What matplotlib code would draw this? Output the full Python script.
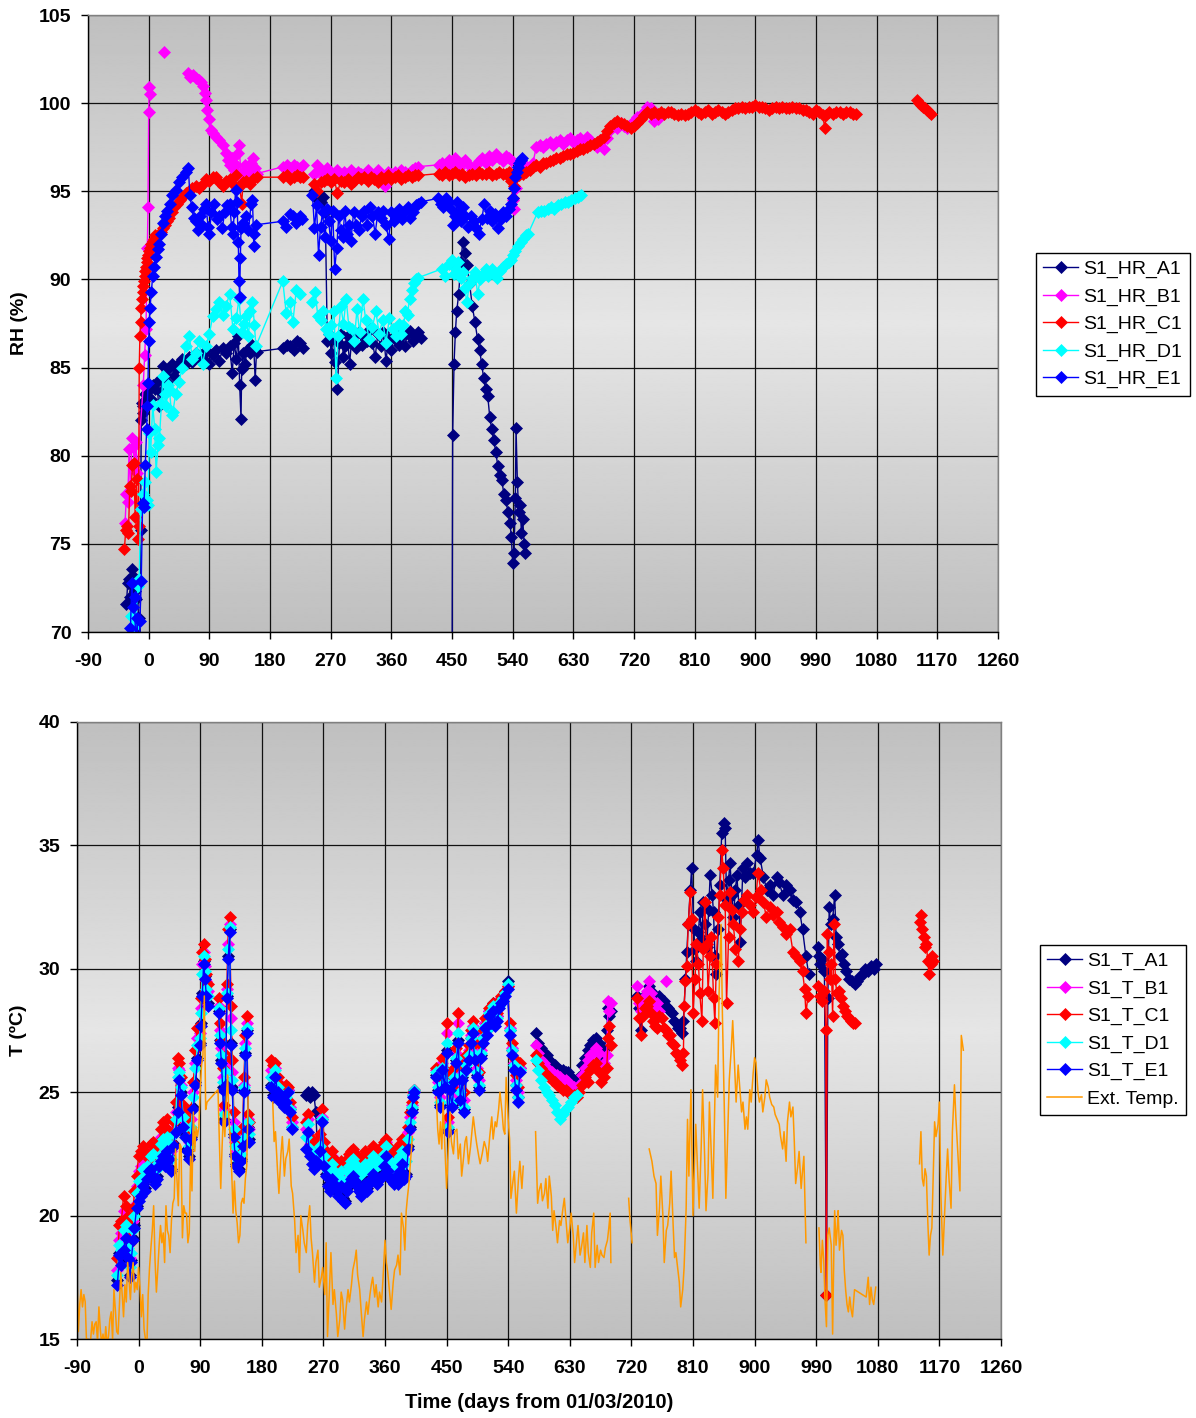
import numpy as np
import matplotlib
matplotlib.use("Agg")
import matplotlib.pyplot as plt

plt.rcParams['font.family'] = ['Liberation Sans', 'DejaVu Sans']

# None marks a break in a series (no line drawn across it)

# ---------------- RH, top chart ----------------
RH_A1_DAYS = [
    -33, -31, -29, -27, -25, -23, -21, -19, -17, -15,
    -13, -12, -11, -10, -9, -8, -6, -4, -2, 0,
    3, 6, 9, 12, 15, 18, 21, 24, 27, 30,
    34, 38, 42, 46, 50, 55, 60, 65, 70, 75,
    80, 85, 90, 95, 100, 105, 110, 115, 120, 124,
    127, 130, 133, 135, 137, 138, 140, 143, 146, 150,
    153, 156, 158, 160, 200, 205, 210, 215, 220, 225,
    229, None,
    245, 248, 251, 255, 258, 262, 265, 268, 271, 274,
    277, 280, 283, 286, 289, 292, 295, 298, 301, 304,
    308, 312, 316, 320, 324, 328, 332, 336, 340, 344,
    348, 352, 356, 360, 364, 368, 372, 376, 380, 384,
    388, 392, 396, 400, 404, None,
    449, 451, 453, 455, 457, 460, 463, 466, 469, 472,
    476, 480, 484, 488, 491, 494, 497, 500, 503, 506,
    509, 512, 515, 518, 521, 524, 527, 530, 533, 536,
    538, 540, 542, 544, 545, 547, 549, 551, 553, 555,
    557, 559]
RH_A1 = [
    71.6, 72.8, 73.0, 72.0, 73.6, 73.2, 72.3, 71.9, 72.6, 70.8,
    66.0, 75.8, 82.0, 83.0, 82.4, 82.8, 83.5, 83.2, 83.6, 83.9,
    83.2, 84.0, 83.8, 84.2, 82.8, 83.6, 85.1, 84.6, 84.2, 85.0,
    85.2, 84.5, 85.0, 85.3, 85.5, 85.2, 85.6, 85.3, 85.8, 85.6,
    85.5, 86.0, 85.2, 85.7, 86.0, 85.4, 86.1, 85.8, 86.2, 84.7,
    86.4, 85.5, 86.8, 84.0, 82.1, 84.9, 85.8, 85.2, 86.0, 85.8,
    86.3, 86.1, 84.3, 85.9, 86.1, 86.3, 86.2, 86.0, 86.5, 86.4,
    86.1, None,
    95.0, 94.6, 94.9, 94.4, 94.7, 93.8, 86.5, 86.9, 85.8, 86.7,
    85.3, 83.8, 86.4, 86.9, 85.6, 86.2, 86.8, 85.2, 86.5, 86.9,
    86.1, 87.0, 86.3, 86.8, 86.5, 87.2, 86.4, 85.6, 86.9, 86.2,
    87.0, 85.4, 86.6, 86.0, 86.7, 87.1, 86.3, 86.8, 86.2, 86.9,
    87.1, 86.5, 86.8, 87.0, 86.7, None,
    50.0, 81.2, 85.2, 87.0, 88.2, 89.2, 91.0, 92.1, 91.5, 90.8,
    89.8, 88.5, 87.6, 86.6, 86.0, 85.2, 84.4, 83.8, 83.4, 82.2,
    81.5, 80.9, 80.2, 79.4, 78.9, 78.6, 77.8, 77.5, 76.8, 76.2,
    75.4, 73.9, 74.5, 77.6, 81.6, 78.5, 76.8, 77.2, 75.6, 76.4,
    75.0, 74.5]

RH_B1_DAYS = [
    -35, -33, -31, -29, -27, -25, -23, -21, -19, -17,
    -8, -6, -4, -2, -1, 0, 1, 2, None,
    23, None,
    58, 62, 66, 70, 74, 78, 81, 83, 85, 87,
    89, 92, 96, 100, 105, 110, 115, 118, 121, 124,
    127, 130, 132, 134, 137, 140, 143, 146, 149, 152,
    155, 158, 160, 200, 205, 210, 215, 220, 225, 229, None,
    245, 250, 255, 260, 265, 270, 275, 280, 285, 290,
    295, 300, 305, 310, 315, 320, 325, 330, 335, 340,
    345, 350, 355, 360, 365, 370, 375, 380, 385, 390,
    395, 400, 430, 435, 440, 445, 450, 455, 460, 465,
    470, 475, 480, 485, 490, 495, 500, 505, 510, 515,
    520, 525, 530, 535, 538, 540, 542, 545, 550, 555,
    560, 570, 575, 580, 585, 590, 595, 600, 605, 610,
    615, 620, 625, 630, 635, 640, 645, 650, 655, 660,
    665, 670, 675, 680, 685, 690, 695, 700, 705, 710,
    715, 720, 725, 730, 735, 740, 745, 750, 756]
RH_B1 = [
    76.2, 77.8, 77.4, 80.4, 78.0, 81.0, 80.5, 79.5, 80.8, 79.0,
    84.0, 85.7, 87.2, 91.8, 94.1, 99.5, 100.9, 100.5, None,
    102.9, None,
    101.7, 101.5, 101.6, 101.4, 101.3, 101.2, 101.0, 100.6, 100.2, 99.6,
    99.1, 98.5, 98.3, 98.1, 97.9, 97.6, 97.2, 96.8, 96.5, 96.9,
    96.2, 96.5, 97.2, 97.6, 96.0, 95.8, 96.5, 96.3, 96.1, 96.6,
    96.9, 96.3, 96.0, 96.4, 96.5, 96.3, 96.5, 96.4, 96.3, 96.5, None,
    96.0, 96.5, 96.2, 95.8, 96.3, 96.0, 95.9, 96.2, 95.7, 96.1,
    96.0, 96.2, 95.9, 96.1, 96.0, 95.8, 96.2, 96.0, 95.9, 96.2,
    96.0, 95.3, 96.1, 96.0, 96.1, 95.9, 96.2, 96.1, 96.0, 96.2,
    96.3, 96.4, 96.5, 96.6, 96.4, 96.8, 96.5, 96.9, 96.3, 96.6,
    96.8, 96.5, 96.2, 96.5, 96.7, 96.9, 96.6, 97.0, 96.8, 97.1,
    96.9, 96.7, 97.0, 96.9, 96.8, 94.5, 94.0, 95.2, 96.3, 96.6,
    96.4, 96.6, 97.5, 97.6, 97.5, 97.7, 97.8, 97.6, 97.8, 97.9,
    97.7, 97.9, 98.0, 97.8, 97.9, 98.0, 97.8, 98.1, 97.9, 97.7,
    97.5, 97.9, 97.4, 98.0, 98.5, 98.8, 98.6, 98.9, 98.7, 98.6,
    98.8, 99.0, 99.2, 99.3, 99.5, 99.8, 99.7, 99.0, 99.1]

RH_C1_DAYS = [
    -36, -34, -32, -30, -28, -26, -24, -22, -20, -18,
    -16, -15, -14, -13, -12, -11, -10, -9, -8, -7,
    -6, -5, -4, -3, -2, -1, 0, 2, 4, 6,
    8, 10, 12, 15, 18, 21, 24, 27, 30, 34,
    38, 42, 46, 50, 55, 60, 65, 70, 75, 80,
    85, 90, 95, 100, 105, 110, 115, 120, 125, 130,
    135, 138, 140, 145, 150, 155, 160, 200, 205, 210,
    215, 220, 225, 229, None,
    245, 250, 255, 260, 265, 270, 275, 280, 285, 290,
    295, 300, 305, 310, 315, 320, 325, 330, 335, 340,
    345, 350, 355, 360, 365, 370, 375, 380, 385, 390,
    395, 400, 430, 435, 440, 445, 450, 455, 460, 465,
    470, 475, 480, 485, 490, 495, 500, 505, 510, 515,
    520, 525, 530, 535, 538, 540, 542, 545, 550, 555,
    560, 565, 570, 575, 580, 585, 590, 595, 600, 605,
    610, 615, 620, 625, 630, 635, 640, 645, 650, 655,
    660, 665, 670, 675, 680, 685, 690, 695, 700, 705,
    710, 715, 720, 725, 730, 735, 740, 745, 750, 755,
    760, 765, 770, 775, 780, 785, 790, 795, 800, 805,
    810, 815, 820, 825, 830, 835, 840, 845, 850, 855,
    860, 865, 870, 875, 880, 885, 890, 895, 900, 905,
    910, 915, 920, 925, 930, 935, 940, 945, 950, 955,
    960, 965, 970, 975, 980, 985, 990, 995, 1000, 1003,
    1005, 1010, 1015, 1020, 1025, 1030, 1035, 1040, 1045, 1050, None,
    1140, 1143, 1146, 1149, 1152, 1155, 1158, 1161]
RH_C1 = [
    74.7, 75.8, 76.0, 75.6, 78.3, 78.0, 79.5, 79.6, 76.5, 78.7,
    75.3, 76.0, 85.0, 86.8, 87.6, 88.4, 88.9, 89.3, 89.6, 89.9,
    90.2, 90.5, 90.7, 91.0, 91.2, 91.4, 91.6, 91.8, 92.0, 92.2,
    92.3, 92.5, 92.4, 92.6, 92.7, 92.9, 93.1, 93.3, 93.5, 93.8,
    94.1, 94.3, 94.5, 94.7, 94.9, 95.0, 95.2, 95.3, 95.2, 95.4,
    95.7, 95.6, 95.8, 95.8, 95.5, 95.3, 95.6, 95.7, 95.4, 95.9,
    95.3, 94.3, 95.5, 95.6, 95.4, 95.7, 95.8, 95.8, 95.9, 95.7,
    95.8, 95.9, 95.8, 95.8, None,
    95.4, 95.0, 95.5, 95.6, 95.7, 95.5, 95.7, 94.9, 95.6, 95.5,
    95.7, 95.4, 95.6, 95.8, 95.7, 95.8, 95.6, 95.8, 95.7, 95.5,
    95.8, 95.7, 95.9, 95.7, 95.8, 95.9, 95.7, 95.8, 95.9, 95.8,
    95.9, 95.9, 96.0, 95.9, 96.1, 95.9, 96.0, 96.1, 95.9, 96.0,
    95.8, 95.9, 96.0, 95.9, 96.1, 96.0, 96.0, 96.1, 95.9, 96.0,
    96.1, 96.0, 96.0, 96.1, 95.6, 94.6, 95.3, 95.8, 95.9, 96.0,
    96.1, 96.2, 96.4, 96.5, 96.4, 96.6, 96.6, 96.7, 96.8, 96.9,
    96.9, 97.0, 97.1, 97.1, 97.2, 97.3, 97.4, 97.4, 97.5, 97.6,
    97.7, 97.8, 97.9, 98.1, 98.4, 98.7, 98.9, 99.0, 98.9, 98.8,
    98.7, 98.6, 98.7, 98.9, 99.1, 99.3, 99.5, 99.4, 99.5, 99.4,
    99.5, 99.4, 99.5, 99.5, 99.4, 99.3, 99.4, 99.3, 99.4, 99.5,
    99.6, 99.5, 99.4, 99.5, 99.6, 99.4, 99.5, 99.6, 99.5, 99.4,
    99.5, 99.6, 99.7, 99.7, 99.8, 99.7, 99.8, 99.8, 99.9, 99.8,
    99.8, 99.7, 99.6, 99.7, 99.8, 99.7, 99.8, 99.7, 99.7, 99.8,
    99.7, 99.7, 99.6, 99.6, 99.5, 99.4, 99.6, 99.5, 99.3, 98.6,
    99.3, 99.5, 99.4, 99.5, 99.5, 99.4, 99.5, 99.5, 99.4, 99.4, None,
    100.2, 100.0, 99.9, 99.8, 99.7, 99.6, 99.5, 99.4]

RH_D1_DAYS = [
    -26, -22, -19, -16, -14, -12, -9, -6, -3, -1,
    1, 3, 6, 9, 11, 14, 16, 19, 21, 24,
    26, 29, 31, 34, 36, 40, 45, 50, 55, 60,
    65, 70, 75, 80, 85, 90, 95, 100, 105, 110,
    115, 120, 125, 130, 134, 138, 141, 144, 148, 151,
    154, 157, 159, 199, 204, 209, 214, 219, 224, None,
    243, 247, 251, 255, 259, 263, 267, 271, 275, 278,
    281, 285, 289, 293, 297, 301, 305, 309, 313, 318,
    322, 327, 332, 337, 342, 347, 352, 357, 362, 367,
    371, 375, 378, 381, 384, 387, 390, 393, 396, 400,
    435, 440, 445, 450, 453, 456, 459, 463, 466, 469,
    472, 476, 480, 484, 488, 492, 496, 500, 504, 509,
    513, 517, 521, 526, 530, 534, 538, 541, 544, 548,
    552, 556, 560, 563,
    577, 582, 587, 592, 597, 602, 607, 612, 617, 622,
    627, 632, 637, 642]
RH_D1 = [
    70.9, 70.3, 70.8, 72.6, 73.0, 77.0, 77.8, 78.5, 77.5, 77.2,
    81.3, 80.2, 82.9, 81.5, 79.1, 80.6, 81.0, 83.0, 84.5, 83.5,
    82.8, 84.0, 83.7, 82.3, 82.5, 83.5, 84.2, 85.0, 86.2, 86.8,
    85.5, 85.8, 86.5, 85.2, 86.2, 86.9, 87.9, 88.3, 88.7, 88.0,
    88.5, 89.2, 87.2, 87.8, 88.9, 87.0, 87.5, 87.9, 86.8, 88.2,
    88.7, 87.4, 86.2, 89.9, 88.1, 88.7, 87.6, 89.4, 89.2, None,
    88.7, 89.3, 87.9, 87.7, 88.2, 87.2, 86.9, 87.4, 88.2, 84.4,
    86.8, 88.5, 87.5, 88.9, 87.3, 87.2, 86.5, 88.3, 87.0, 88.9,
    87.7, 86.6, 87.3, 88.2, 86.9, 87.7, 86.4, 87.8, 87.2, 86.8,
    87.5, 86.9, 87.4, 88.2, 88.0, 88.9, 89.4, 89.8, 90.0, 90.1,
    90.6, 90.2, 90.9, 91.1, 90.3, 90.6, 91.0, 90.1, 90.4, 89.5,
    88.7, 89.8, 90.1, 90.4, 89.2, 90.0, 90.3, 90.6, 90.2, 90.6,
    90.3, 90.1, 90.5, 90.7, 90.9, 91.0, 91.1, 91.4, 91.6, 91.9,
    92.1, 92.3, 92.5, 92.6,
    93.8, 93.9, 93.9, 94.0, 94.1, 94.0, 94.2, 94.3, 94.4, 94.4,
    94.5, 94.6, 94.7, 94.8]

RH_E1_DAYS = [
    -27, -25, -23, -21, -19, -17, -15, -13, -11, -9,
    -7, -5, -3, -2, -1, 0, 1, 2, 4, 6,
    8, 11, 14, 16, 19, 21, 24, 27, 31, 35,
    40, 45, 50, 55, 59, 61, 64, 67, 70, 73,
    76, 79, 82, 85, 88, 90, 93, 97, 101, 105,
    109, 113, 116, 120, 123, 125, 127, 129, 131, 133,
    134, 135, 136, 137, 140, 144, 148, 152, 154, 156,
    157, 159, 199, 204, 209, 214, 219, 224, 228, None,
    243, 246, 249, 252, 255, 258, 261, 264, 267, 270,
    273, 276, 279, 282, 285, 288, 291, 294, 297, 300,
    304, 308, 312, 316, 320, 324, 328, 332, 336, 340,
    344, 348, 352, 356, 360, 364, 368, 372, 376, 380,
    384, 388, 392, 396, 400, 404,
    429, 433, 437, 441, 445, 449, 452, 455, 458, 461,
    464, 467, 470, 474, 478, 482, 486, 490, 494, 498,
    502, 506, 510, 514, 518, 522, 526, 530, 534, 538,
    540, 542, 544, 546, 548, 550, 552, 554]
RH_E1 = [
    70.2, 72.8, 71.4, 72.0, 69.0, 70.8, 67.0, 70.6, 72.9, 77.3,
    77.1, 79.5, 81.5, 82.8, 84.1, 86.5, 87.6, 88.4, 89.3, 90.2,
    90.7, 91.3, 91.7, 92.0, 92.6, 93.2, 93.6, 93.9, 94.3, 94.8,
    95.1, 95.5, 95.8, 96.1, 96.3, 94.8, 94.1, 93.5, 93.3, 92.8,
    93.6, 93.1, 94.0, 94.3, 93.0, 92.6, 93.8, 94.3, 93.4, 93.6,
    92.9, 93.8, 94.2, 94.3, 93.0, 92.6, 93.8, 95.1, 94.4, 92.1,
    89.9, 89.0, 91.2, 92.9, 93.2, 93.6, 92.8, 94.3, 94.5, 91.9,
    92.6, 93.1, 93.3, 93.0, 93.7, 93.6, 93.2, 93.6, 93.4, None,
    94.8, 92.9, 94.2, 91.4, 93.0, 93.8, 92.4, 94.0, 93.3, 92.2,
    93.9, 90.6, 91.8, 93.6, 92.8, 92.4, 93.9, 92.6, 93.1, 92.2,
    93.8, 93.1, 92.8, 93.6, 93.9, 93.1, 94.1, 93.6, 92.6, 93.8,
    93.5, 93.9, 93.1, 92.3, 93.8, 93.3, 93.6, 94.0, 93.4, 93.9,
    94.1, 93.5, 93.8, 94.2, 94.3, 94.4,
    94.6, 94.3, 94.1, 94.6, 94.4, 94.0, 93.1, 93.6, 94.4, 93.8,
    93.3, 94.1, 93.6, 93.0, 93.6, 93.3, 92.9, 92.6, 93.4, 94.3,
    93.5, 93.9, 93.3, 93.7, 92.9, 93.4, 93.8, 93.6, 94.0, 94.3,
    94.6, 95.2, 95.8, 96.1, 96.4, 96.6, 96.8, 96.9]

# ---------------- T, bottom chart ----------------
# sampling days shared by the sensors in each stretch
T_DAYS_1A = [-31, -28, -25, -22, -19, -16, -13, -11, -8, -6,
             -3, 0, 3, 6, 9, 12, 15, 18, 21, 24,
             27, 30, 33, 36, 39, 42, 45, 48, 51, 54,
             57, 59, 62, 65, 68, 71, 74, 77, 80, 83,
             86, 89, 91, 93, 95, 97, 99, 101]
T_DAYS_1B = [117, 119, 121, 123, 125, 127, 129, 131, 133, 135,
             137, 139, 141, 143, 146, 149, 152, 154, 156, 158,
             160, 162]
T_DAYS_2 = [194, 197, 200, 203, 206, 209, 212, 215, 218, 221, 224]
T_DAYS_3 = [244, 247, 250, 253, 256, 259, 262, 265, 268, 271,
            274, 277, 280, 283, 286, 289, 292, 295, 298, 301,
            304, 307, 310, 313, 316, 319, 322, 325, 328, 331,
            334, 337, 340, 343, 346, 349, 352, 355, 358, 361,
            364, 367, 370, 373, 376, 379, 382, 385, 388, 391,
            394, 397, 399, 401, 402]
T_DAYS_4 = [435, 438, 441, 444, 447, 450, 452, 455, 458, 461,
            464, 467, 470, 473, 476, 479, 482, 485, 488, 491,
            494, 497, 500, 503, 506, 509, 512, 515, 518, 521,
            524, 527, 530, 533, 536, 539, 542, 545, 548, 551,
            554, 557]
T_DAYS_5 = [580, 584, 588, 592, 596, 600, 604, 608, 612, 616,
            620, 624, 628, 632, 636, 640, 644, 648, 652, 656,
            660, 664, 668, 672, 676, 680, 684, 686, 688, 690]
T_DAYS_6 = [728, 731, 734, 737, 740, 743, 746, 749, 752, 755,
            758, 761, 764, 767, 770, 773, 776, 779, 782, 785,
            788, 791, 794, 796]

T_A1_1A = [17.4, 18.5, 18.2, 18.8, 19.2, 18.4, 17.6, 18.2, 19.1, 19.6,
           20.4, 20.8, 21.0, 21.3, 21.1, 21.6, 21.8, 22.0, 21.7, 21.4,
           21.6, 22.1, 22.3, 22.5, 22.1, 22.7, 22.4, 21.9, 22.9, 23.5,
           24.4, 25.6, 25.0, 23.7, 23.3, 22.7, 22.4, 23.2, 24.4, 25.4,
           26.4, 27.0, 27.8, 29.0, 30.3, 29.7, 29.0, 28.6]
T_B1_1A = [17.8, 19.0, 19.3, 20.2, 19.8, 19.2, 18.3, 19.0, 19.8, 20.4,
           21.2, 21.8, 22.0, 22.3, 22.1, 22.2, 22.0, 22.6, 22.8, 22.3,
           22.2, 22.7, 23.2, 23.5, 23.2, 23.5, 23.1, 22.6, 23.5, 24.2,
           26.0, 25.9, 25.3, 24.2, 23.8, 23.5, 23.0, 23.9, 25.0, 26.2,
           27.2, 27.4, 28.4, 30.2, 30.7, 30.1, 29.5, 29.1]
T_C1_1A = [18.3, 19.6, 19.8, 20.8, 20.4, 20.0, 18.9, 19.6, 20.3, 21.0,
           21.6, 22.4, 22.6, 22.8, 22.6, 22.5, 22.3, 22.9, 23.0, 22.6,
           22.4, 23.0, 23.5, 23.8, 23.6, 23.9, 23.4, 23.0, 23.8, 24.6,
           26.4, 26.2, 25.6, 24.5, 24.2, 23.9, 23.4, 24.3, 25.4, 26.7,
           27.6, 27.7, 28.8, 30.7, 31.0, 30.4, 29.8, 29.4]
T_D1_1A = [17.6, 18.8, 18.6, 19.4, 19.6, 18.7, 17.9, 18.5, 19.4, 20.0,
           20.9, 21.4, 21.5, 21.9, 21.8, 22.0, 21.9, 22.4, 22.5, 22.0,
           21.9, 22.4, 22.9, 23.1, 22.8, 23.2, 22.9, 22.3, 23.3, 23.9,
           25.6, 25.8, 25.2, 24.0, 23.6, 23.1, 22.8, 23.6, 24.8, 26.0,
           26.9, 27.2, 28.2, 29.8, 30.5, 29.9, 29.2, 28.9]
T_E1_1A = [17.2, 18.4, 18.0, 18.6, 19.1, 18.3, 17.5, 18.1, 19.0, 19.5,
           20.3, 20.6, 20.8, 21.2, 21.0, 21.5, 21.8, 21.9, 21.6, 21.3,
           21.5, 22.0, 22.2, 22.4, 22.0, 22.6, 22.3, 21.8, 22.8, 23.4,
           24.2, 25.5, 24.9, 23.6, 23.2, 22.6, 22.3, 23.1, 24.3, 25.3,
           26.3, 26.9, 27.7, 28.9, 30.2, 29.6, 28.9, 28.5]

T_A1_1B = [28.3, 27.1, 26.3, 25.2, 23.9, 25.4, 28.9, 30.5, 31.6, 27.0,
           25.2, 23.3, 22.5, 22.1, 21.9, 22.3, 22.9, 25.1, 26.6, 27.5, 23.6, 23.1]
T_B1_1B = [28.5, 27.5, 26.8, 25.6, 24.3, 26.1, 29.2, 31.0, 31.8, 28.0,
           25.8, 23.8, 23.0, 22.6, 22.4, 22.7, 23.3, 25.3, 27.0, 27.8, 23.9, 23.5]
T_C1_1B = [28.8, 27.8, 27.1, 26.0, 24.5, 26.5, 29.4, 31.6, 32.1, 28.5,
           26.3, 24.2, 23.4, 22.9, 22.7, 23.0, 23.6, 25.6, 27.3, 28.1, 24.1, 23.8]
T_D1_1B = [28.4, 27.3, 26.5, 25.4, 24.1, 25.8, 29.0, 30.8, 31.7, 27.5,
           25.5, 23.5, 22.8, 22.4, 22.2, 22.5, 23.1, 25.2, 26.8, 27.6, 23.8, 23.3]
T_E1_1B = [28.2, 27.0, 26.2, 25.1, 23.8, 25.3, 28.8, 30.4, 31.5, 26.9,
           25.1, 23.2, 22.4, 22.0, 21.8, 22.2, 22.8, 25.0, 26.5, 27.4, 23.5, 23.0]

T_A1_2 = [25.3, 24.9, 25.7, 25.1, 24.7, 24.9, 24.5, 24.7, 25.1, 24.3, 23.6]
T_B1_2 = [25.9, 25.7, 26.0, 25.4, 25.0, 25.0, 24.7, 25.0, 25.1, 24.4, 23.8]
T_C1_2 = [26.3, 26.1, 26.2, 25.6, 25.3, 25.2, 24.9, 25.3, 25.2, 24.6, 24.0]
T_D1_2 = [25.6, 25.3, 25.9, 25.2, 24.8, 24.9, 24.6, 24.8, 25.0, 24.3, 23.6]
T_E1_2 = [25.2, 24.8, 25.6, 25.0, 24.6, 24.8, 24.4, 24.6, 25.0, 24.2, 23.5]

T_A1_3 = [24.9, 25.0, 24.8, 25.0, 24.9, 24.2, 22.2, 22.7, 23.9, 22.1,
          21.7, 21.3, 21.1, 21.6, 21.4, 21.2, 20.9, 21.3, 20.7, 20.6,
          21.1, 21.4, 21.6, 21.7, 21.5, 21.3, 21.1, 20.9, 21.2, 21.4,
          21.1, 21.4, 21.6, 21.8, 21.5, 21.4, 21.6, 21.7, 22.1, 22.5,
          21.9, 21.6, 21.5, 21.4, 21.7, 21.4, 21.9, 22.2, 21.6, 21.7,
          22.8, 23.6, 24.3, 24.9, 25.1]
T_B1_3 = [23.5, 23.9, 22.9, 22.6, 22.5, 22.7, 22.6, 23.0, 24.0, 22.7,
          22.3, 22.1, 22.0, 22.4, 22.1, 22.0, 21.8, 22.0, 21.8, 21.7,
          22.1, 22.3, 22.5, 22.6, 22.4, 22.2, 22.1, 22.0, 22.2, 22.5,
          22.2, 22.3, 22.5, 22.7, 22.4, 22.3, 22.4, 22.6, 22.8, 23.0,
          22.6, 22.4, 22.3, 22.2, 22.5, 22.3, 22.7, 22.9, 22.5, 22.6,
          23.4, 24.0, 24.5, 24.9, 25.1]
T_C1_3 = [23.8, 24.1, 23.2, 22.9, 22.8, 23.0, 22.9, 23.3, 24.3, 23.0,
          22.6, 22.4, 22.3, 22.6, 22.3, 22.2, 22.0, 22.2, 22.1, 21.9,
          22.3, 22.5, 22.6, 22.7, 22.5, 22.4, 22.3, 22.2, 22.4, 22.6,
          22.4, 22.5, 22.6, 22.8, 22.6, 22.5, 22.6, 22.8, 23.0, 23.1,
          22.8, 22.6, 22.5, 22.4, 22.7, 22.5, 22.9, 23.1, 22.7, 22.8,
          23.6, 24.2, 24.6, 25.0, 25.1]
T_D1_3 = [23.2, 23.7, 22.7, 22.4, 22.3, 22.5, 22.4, 22.8, 23.9, 22.4,
          22.0, 21.8, 21.7, 22.1, 21.8, 21.7, 21.5, 21.8, 21.4, 21.3,
          21.8, 22.0, 22.2, 22.3, 22.1, 21.9, 21.8, 21.7, 21.9, 22.1,
          21.9, 22.0, 22.2, 22.4, 22.1, 22.0, 22.1, 22.3, 22.5, 22.8,
          22.3, 22.1, 22.0, 21.9, 22.2, 22.0, 22.4, 22.6, 22.1, 22.2,
          23.1, 23.8, 24.4, 24.9, 25.1]
T_E1_3 = [22.7, 23.4, 22.4, 22.1, 21.9, 22.2, 22.1, 22.6, 23.8, 22.0,
          21.6, 21.2, 21.0, 21.5, 21.3, 21.1, 20.8, 21.2, 20.6, 20.5,
          21.0, 21.3, 21.5, 21.6, 21.4, 21.2, 21.0, 20.8, 21.1, 21.3,
          21.0, 21.3, 21.5, 21.7, 21.4, 21.3, 21.5, 21.6, 22.0, 22.4,
          21.8, 21.5, 21.4, 21.3, 21.6, 21.3, 21.8, 22.1, 21.5, 21.6,
          22.7, 23.5, 24.2, 24.8, 25.0]

T_A1_4 = [25.7, 25.1, 24.5, 26.0, 25.3, 26.7, 23.5, 25.2, 24.5, 25.5,
          26.3, 27.1, 24.8, 25.6, 24.3, 26.0, 26.4, 27.2, 27.6, 26.4,
          25.7, 25.2, 26.5, 27.2, 27.8, 27.5, 28.3, 28.0, 28.6, 27.9,
          28.1, 28.6, 28.8, 28.9, 29.1, 29.5, 27.5, 26.7, 26.1, 25.3,
          24.8, 26.0]
T_B1_4 = [25.9, 25.4, 24.8, 26.2, 25.6, 27.4, 23.8, 25.5, 24.9, 25.8,
          26.6, 27.8, 25.2, 25.9, 24.7, 26.3, 26.7, 27.3, 27.7, 26.8,
          26.0, 25.5, 26.7, 27.3, 27.8, 27.6, 28.3, 28.0, 28.5, 27.9,
          28.1, 28.6, 28.8, 28.9, 29.0, 29.3, 27.6, 26.8, 26.2, 25.5,
          25.0, 26.0]
T_C1_4 = [26.0, 25.6, 25.1, 26.4, 25.9, 27.8, 24.0, 25.7, 25.2, 26.0,
          26.8, 28.2, 25.5, 26.1, 25.0, 26.5, 26.9, 27.5, 27.9, 27.0,
          26.3, 25.8, 26.9, 27.5, 28.0, 27.8, 28.4, 28.1, 28.6, 28.0,
          28.2, 28.7, 28.9, 28.9, 29.1, 29.3, 27.8, 27.0, 26.4, 25.7,
          25.2, 26.2]
T_D1_4 = [25.8, 25.2, 24.6, 26.0, 25.4, 27.0, 23.6, 25.3, 24.6, 25.6,
          26.4, 27.4, 25.0, 25.7, 24.4, 26.1, 26.5, 27.2, 27.6, 26.5,
          25.8, 25.3, 26.6, 27.2, 27.7, 27.5, 28.2, 27.9, 28.5, 27.8,
          28.0, 28.5, 28.7, 28.8, 29.0, 29.4, 27.5, 26.7, 26.1, 25.3,
          24.8, 25.9]
T_E1_4 = [25.6, 25.0, 24.4, 25.9, 25.2, 26.6, 23.4, 25.1, 24.4, 25.4,
          26.2, 27.0, 24.7, 25.5, 24.2, 25.9, 26.3, 27.0, 27.4, 26.3,
          25.6, 25.1, 26.4, 27.0, 27.6, 27.3, 28.1, 27.8, 28.3, 27.7,
          27.9, 28.4, 28.6, 28.7, 28.9, 29.2, 27.3, 26.5, 25.9, 25.1,
          24.6, 25.8]

T_A1_5 = [27.4, 27.0, 26.8, 26.6, 26.5, 26.3, 26.2, 26.1, 26.0, 25.9,
          25.9, 25.8, 25.8, 25.6, 25.5, 25.4, 25.6, 26.1, 26.4, 26.7,
          26.9, 27.1, 27.2, 27.0, 26.4, 26.7, 27.5, 28.4, 28.1, 28.3]
T_B1_5 = [26.9, 26.6, 26.3, 26.2, 26.0, 25.9, 25.8, 25.7, 25.7, 25.6,
          25.5, 25.5, 25.4, 25.3, 25.2, 25.1, 25.3, 25.7, 26.0, 26.3,
          26.5, 26.6, 26.8, 26.6, 26.0, 26.2, 26.5, 28.7, 28.3, 28.6]
T_C1_5 = [26.5, 26.2, 26.0, 25.8, 25.7, 25.6, 25.5, 25.4, 25.3, 25.2,
          25.1, 25.1, 25.0, 24.9, 24.9, 24.8, 25.0, 25.3, 25.6, 25.4,
          25.9, 26.1, 26.2, 25.8, 25.4, 25.6, 26.0, 27.2, 27.7, 26.9]
T_D1_5 = [26.3, 25.9, 25.5, 25.2, 25.0, 24.9, 24.7, 24.5, 24.2, 23.9,
          24.1, 24.3, 24.4, 24.6, 24.8, 24.9]

T_A1_6 = [28.9, 28.4, 27.5, 28.3, 28.7, 29.0, 29.3, 29.1, 28.8, 28.5,
          28.7, 28.9, 28.6, 28.7, 28.5, 28.4, 28.3, 28.2, 27.9, 27.8,
          27.6, 27.6, 27.4, 27.9]
T_B1_6 = [29.3, 28.6, 28.3, 28.6, 28.9, 29.1, 29.5, 29.0, 28.7, 28.4,
          28.6, 28.3, None, None, 29.5, None, None, None, None, None,
          None, None, None, None]
T_C1_6 = [28.8, 28.0, 27.3, 28.1, 28.4, 28.5, 28.7, 28.2, 27.9, 27.7,
          27.6, 28.1, 28.0, 27.6, 27.5, 27.3, 27.3, 27.0, 26.9, 26.6,
          26.5, 26.3, 26.1, 26.6]

T_A1_DAYS_7 = [799, 801, 803, 806, 808, 811, 813, 815,
               818, 820, 823, 825, 828, 830, 833, 835, 838, 840,
               842, 844, 847, 849, 852, 855, 857, 859, 862, 864,
               867, 869, 872, 874, 877, 879, 881, 883, 886, 889,
               893, 898, 903, 905, 908, 913, 918, 922, 927, 932,
               936, 941, 946, 951, 956, 961, 966, 970, 975, 979]
T_A1_7 = [29.6, 30.7, 31.8, 33.2, 34.1, 31.6, 30.8, 30.3,
          31.5, 32.3, 31.2, 32.7, 31.8, 30.9, 32.4, 33.8, 33.0, 32.3,
          30.5, 29.8, 31.6, 33.4, 35.5, 35.9, 35.7, 32.8, 33.6, 34.3,
          33.0, 32.1, 33.2, 33.8, 32.6, 31.1, 32.7, 34.1, 33.7, 34.3,
          33.9, 33.9, 34.6, 35.2, 34.5, 33.7, 33.2, 33.4, 33.0, 33.7,
          33.5, 33.0, 33.4, 33.2, 32.8, 32.7, 32.3, 31.6, 30.5, 29.8]
T_C1_DAYS_7 = [797, 799, 801, 803, 806, 808, 810, 813, 815, 818,
               820, 823, 825, 827, 830, 832, 835, 837, 840, 842,
               844, 847, 849, 852, 854, 857, 859, 862, 864, 867,
               869, 872, 876, 879, 881, 885, 889, 893, 898, 902,
               905, 909, 913, 917, 922, 927, 932, 936, 941, 946,
               951, 956, 961, 966, 970, 973, 975, 978]
T_C1_7 = [28.5, 29.5, 30.1, 31.8, 33.1, 32.0, 28.2, 29.6, 31.0, 30.2,
          29.0, 27.9, 30.8, 32.7, 31.0, 29.1, 30.5, 31.3, 28.8, 27.8,
          30.2, 32.1, 33.0, 34.8, 34.1, 32.6, 28.6, 31.3, 33.1, 32.4,
          31.8, 30.8, 30.3, 31.6, 32.3, 32.8, 33.0, 32.6, 32.3, 32.9,
          33.9, 33.2, 32.7, 32.1, 32.5, 32.2, 32.3, 31.9, 31.7, 31.4,
          31.6, 30.7, 30.5, 30.3, 29.9, 29.2, 28.2, 28.9]

T_A1_DAYS_8 = [992, 994, 996, 999, 1002, 1005, 1007, 1009, 1011, 1014,
               1017, 1019, 1022, 1025, 1028, 1031, 1034, 1038, 1042, 1046,
               1050, 1054, 1058, 1062, 1066, 1070, 1074, 1078]
T_A1_8 = [30.9, 30.5, 30.2, 30.4, 29.9, 16.8, 28.8, 32.5, 31.8, 32.0,
          33.0, 31.3, 31.0, 30.5, 30.6, 30.2, 29.9, 29.6, 29.5, 29.4,
          29.5, 29.7, 29.8, 30.0, 29.9, 30.1, 30.0, 30.2]
T_C1_DAYS_8 = [992, 995, 998, 1002, 1004, 1005, 1006, 1008, 1010, 1012,
               1014, 1016, 1018, 1020, 1023, 1026, 1029, 1032, 1035, 1038,
               1041, 1044, 1047]
T_C1_8 = [29.3, 28.9, 28.7, 29.1, 27.5, 16.8, 31.4, 30.7, 29.6, 30.2,
          28.1, 31.8, 29.6, 29.0, 29.1, 28.8, 28.5, 28.3, 28.1, 28.0,
          27.9, 27.8, 27.8]
T_C1_DAYS_9 = [1141, 1143, 1145, 1147, 1149, 1151, 1153, 1155, 1157, 1159, 1161]
T_C1_9 = [31.9, 32.2, 31.6, 31.3, 30.9, 31.0, 30.3, 29.8, 30.2, 30.5, 30.3]

EXT_DAYS = [
    -90, -88, -86, -84, -82, -80, -78, -76, -74, -72,
    -70, -68, -66, -64, -62, -60, -58, -56, -54, -52,
    -50, -48, -46, -44, -42, -40, -38, -36, -34, -32,
    -30, -28, -26, -24, -22, -20, -18, -16, -14, -12,
    -10, -8, -6, -4, -2, 0, 2, 4, 6, 8,
    10, 12, 14, 16, 18, 20, 22, 24, 26, 28,
    30, 32, 34, 36, 38, 40, 42, 44, 46, 48,
    50, 52, 54, 56, 58, 60, 62, 64, 66, 68,
    70, 72, 74, 76, 78, 80, 82, 84, 86, 88,
    90, 92, 94, 96, 98, 100, 116, 118, 120, 122,
    124, 126, 128, 130, 132, 134, 136, 138, 140, 142,
    144, 146, 148, 150, 152, 154, 156, 158, 160, None,
    196, 198, 200, 203, 205, 208, 210, 213, 215, 218,
    220, 223, 225, 228, 230, 233, 235, 237, 240, 242,
    245, 247, 250, 252, 254, 257, 259, 262, 264, 267,
    269, 272, 274, 276, 279, 281, 284, 286, 289, 291,
    294, 296, 298, 301, 303, 306, 308, 311, 313, 316,
    318, 320, 323, 325, 328, 330, 333, 335, 338, 340,
    342, 345, 347, 350, 352, 355, 357, 360, 362, 364,
    367, 369, 372, 374, 377, 379, 382, 384, 387, 389,
    391, 393, 395, 397, 400, None,
    435, 437, 439, 441, 443, 445, 447, 450, 452, 455,
    457, 460, 462, 465, 467, 470, 472, 475, 477, 479,
    482, 485, 487, 489, 492, 494, 497, 499, 502, 505,
    508, 510, 513, 516, 518, 521, 523, 526, 528, 531,
    533, 535, 537, 540, 542, 544, 547, 549, 552, 555,
    557, 560, 562, None,
    580, 583, 585, 588, 590, 593, 595, 598, 600, 603,
    605, 607, 610, 612, 615, 617, 620, 622, 625, 627,
    630, 632, 635, 637, 640, 642, 645, 647, 650, 652,
    655, 657, 660, 662, 665, 667, 670, 672, 675, 677,
    680, 682, 685, 687, 689, 690, None,
    716, 718, 721, None,
    746, 750, 753, 756, 758, 761, 763, 766, 768, 771,
    773, 776, 778, 781, 783, 785, 788, 790, 792, 795,
    797, 800, 802, 804, 807, 810, 812, 814, 817, 819,
    822, 824, 827, 829, 832, 834, 837, 839, 841, 843,
    846, 848, 851, 853, 856, 858, 861, 863, 866, 868,
    871, 873, 876, 878, 881, 883, 886, 888, 890, 893,
    895, 898, 900, 902, 905, 907, 910, 912, 915, 917,
    920, 922, 925, 928, 930, 933, 936, 938, 941, 943,
    946, 948, 951, 953, 956, 958, 960, 963, 965, 968,
    970, 972, 975, None,
    994, 996, 997, 999, 1001, 1003, 1005, 1007, 1009, 1012,
    1014, 1016, 1017, 1019, 1021, 1022, 1024, 1027, 1029, 1031,
    1033, 1035, 1037, 1039, 1041, 1043, 1046, 1063, 1066, 1068,
    1070, 1072, 1074, 1077, None,
    1141, 1143, 1145, 1147, 1149, 1151, 1153, 1155, 1157, 1159,
    1161, 1163, 1165, 1168, 1170, 1172, 1175, 1177, 1180, 1182,
    1184, 1187, 1189, 1192, 1194, 1197, 1200, 1202, 1205]
EXT_TEMP = [
    17.5, 15.3, 16.4, 17.0, 16.3, 16.8, 16.5, 14.8, 15.0, 14.6,
    15.0, 15.7, 15.2, 15.6, 15.7, 14.9, 16.3, 15.4, 14.8, 15.2,
    14.7, 15.5, 14.8, 15.1, 15.8, 16.1, 15.0, 17.0, 16.2, 15.3,
    15.2, 16.4, 17.7, 16.8, 15.9, 17.2, 16.5, 18.1, 17.4, 16.6,
    17.6, 18.1, 16.9, 17.3, 17.0, 17.9, 17.1, 15.9, 16.8, 15.4,
    15.0, 14.6, 16.8, 17.9, 18.7, 19.4, 20.4, 18.2, 16.9, 17.8,
    18.8, 19.6, 18.9, 19.3, 18.1, 20.4, 19.4, 19.2, 18.5, 19.8,
    20.5, 20.7, 22.7, 21.5, 20.4, 22.9, 22.8, 19.1, 20.4, 20.1,
    20.1, 18.9, 19.3, 22.4, 21.0, 24.2, 22.6, 23.6, 23.2, 23.6,
    25.1, 26.1, 26.5, 28.9, 24.3, 24.6, 25.1, 23.0, 21.1, 22.8,
    24.2, 23.2, 24.6, 25.7, 23.9, 23.1, 21.8, 20.1, 21.4, 20.2,
    19.7, 18.9, 19.2, 20.5, 20.7, 20.5, 21.5, 22.0, 24.8, None,
    24.6, 23.0, 23.4, 21.8, 20.9, 22.5, 23.2, 21.6, 22.3, 22.6,
    23.1, 21.2, 20.9, 19.8, 18.5, 19.2, 17.7, 20.0, 19.4, 18.9,
    18.5, 19.6, 20.4, 19.1, 18.5, 17.3, 18.1, 18.6, 17.1, 17.5,
    17.9, 16.8, 18.9, 15.1, 17.2, 18.5, 16.4, 17.0, 16.0, 15.1,
    15.8, 16.9, 16.6, 15.4, 16.2, 17.0, 16.5, 17.2, 17.8, 18.2,
    18.6, 17.6, 17.0, 16.2, 15.1, 15.8, 16.5, 16.0, 16.8, 17.2,
    17.5, 16.7, 17.2, 16.3, 16.9, 16.5, 17.4, 19.0, 18.1, 17.7,
    16.8, 16.2, 17.3, 17.8, 18.0, 18.4, 17.6, 20.1, 19.5, 18.6,
    20.2, 20.8, 21.3, 22.1, 23.2, None,
    24.8, 23.5, 22.9, 23.8, 22.7, 24.6, 23.1, 21.1, 22.4, 24.2,
    23.0, 22.5, 23.4, 23.5, 22.3, 22.9, 21.6, 22.4, 23.0, 23.2,
    22.1, 22.8, 23.4, 24.0, 23.3, 22.9, 22.4, 22.1, 22.5, 23.0,
    22.7, 22.2, 23.2, 24.0, 23.1, 23.8, 23.6, 24.3, 25.0, 24.2,
    23.5, 23.3, 25.6, 23.9, 23.1, 20.7, 21.4, 21.8, 20.1, 21.5,
    22.2, 21.1, 22.0, None,
    23.4, 20.5, 21.0, 21.3, 20.6, 20.9, 21.5, 20.3, 21.6, 20.8,
    19.4, 20.2, 19.5, 18.9, 19.8, 19.6, 20.3, 20.7, 19.6, 18.9,
    19.5, 20.1, 19.2, 18.1, 19.0, 19.6, 18.4, 18.7, 19.3, 18.1,
    19.6, 18.5, 17.9, 19.3, 20.1, 17.9, 18.8, 18.1, 18.6, 18.4,
    18.3, 18.7, 19.0, 19.5, 20.1, 18.1, None,
    20.7, 19.8, 18.9, None,
    22.7, 22.2, 21.6, 21.3, 19.2, 20.3, 21.6, 20.0, 18.1, 19.4,
    19.6, 20.5, 21.8, 19.6, 18.3, 18.5, 17.8, 17.3, 16.3, 17.0,
    17.9, 20.3, 23.9, 21.6, 25.1, 20.0, 22.0, 23.7, 21.6, 20.3,
    22.8, 25.1, 22.4, 20.2, 21.7, 24.6, 22.3, 20.7, 23.4, 26.1,
    24.8, 28.9, 31.8, 28.1, 24.0, 20.7, 23.6, 25.5, 26.8, 27.9,
    25.9, 24.6, 26.1, 25.3, 24.2, 24.6, 23.5, 24.0, 23.5, 25.1,
    24.6, 25.8, 26.4, 26.2, 25.0, 24.6, 24.9, 24.2, 24.8, 25.5,
    25.2, 24.8, 24.5, 24.4, 24.1, 23.9, 23.7, 23.2, 22.7, 23.4,
    22.2, 23.8, 24.6, 24.0, 24.4, 23.0, 21.3, 22.0, 22.6, 21.1,
    21.8, 22.4, 18.9, None,
    19.5, 18.0, 17.7, 19.0, 18.2, 16.5, 15.5, 19.2, 19.5, 18.8,
    15.2, 19.0, 20.2, 18.8, 19.6, 20.2, 18.6, 19.4, 19.2, 17.8,
    17.0, 16.4, 16.1, 16.7, 16.2, 15.9, 17.0, 16.7, 17.5, 16.4,
    17.1, 16.6, 16.4, 17.1, None,
    22.1, 23.4, 21.5, 21.2, 21.9, 21.6, 19.8, 18.4, 19.2, 19.5,
    21.6, 23.8, 23.2, 23.7, 24.6, 21.0, 18.4, 19.7, 21.6, 22.7,
    21.5, 20.3, 23.4, 25.3, 24.0, 22.5, 21.0, 27.3, 26.7]

X_TICKS = [-90, 0, 90, 180, 270, 360, 450, 540, 630, 720, 810, 900, 990, 1080, 1170, 1260]
RH_TICKS = [70, 75, 80, 85, 90, 95, 100, 105]
T_TICKS = [15, 20, 25, 30, 35, 40]

RH_NAMES = ['S1_HR_A1', 'S1_HR_B1', 'S1_HR_C1', 'S1_HR_D1', 'S1_HR_E1']
T_NAMES = ['S1_T_A1', 'S1_T_B1', 'S1_T_C1', 'S1_T_D1', 'S1_T_E1', 'Ext. Temp.']
COLORS = ['#000080', '#FF00FF', '#FF0000', '#00FFFF', '#0000FF']
EXT_COLOR = '#FF9900'


def arr(v):
    return np.array(v, dtype=float)


def chain(*segs):
    # join (days, values) stretches, leaving a gap between them
    xs, ys = [], []
    for d, v in segs:
        if len(d) != len(v):
            raise ValueError("length mismatch %d %d" % (len(d), len(v)))
        if xs:
            xs.append(None)
            ys.append(None)
        xs += list(d)
        ys += list(v)
    return arr(xs), arr(ys)


def add_background(rect):
    # Excel-like grey gradient behind the plot area
    bg = fig.add_axes(rect, zorder=-1)
    shade = np.concatenate([np.linspace(0.75, 0.90, 200), np.linspace(0.90, 0.75, 200)])
    bg.imshow(shade[:, None], cmap='gray', vmin=0, vmax=1, aspect='auto',
              extent=[0, 1, 0, 1], interpolation='bilinear')
    bg.set_axis_off()


def style_axes(ax, yticks):
    ax.set_facecolor('none')
    ax.set_xlim(-90, 1260)
    ax.set_ylim(yticks[0], yticks[-1])
    ax.set_xticks(X_TICKS)
    ax.set_xticklabels([str(t) for t in X_TICKS], fontweight='bold', fontsize=14)
    ax.set_yticks(yticks)
    ax.set_yticklabels([str(t) for t in yticks], fontweight='bold', fontsize=14)
    ax.tick_params(axis='x', direction='out', length=5, width=1, pad=10)
    ax.tick_params(axis='y', direction='out', length=5, width=1, pad=7)
    ax.grid(True, color='#111111', lw=0.9)
    ax.set_axisbelow(True)
    for s in ('top', 'right'):
        ax.spines[s].set_color('#808080')
    for s in ('left', 'bottom'):
        ax.spines[s].set_color('black')
    for s in ax.spines.values():
        s.set_linewidth(1)


def leg(handles, labels, x, y):
    lg = fig.legend(handles, labels, loc='upper left', bbox_to_anchor=(x, y),
                    frameon=True, fancybox=False, edgecolor='black', framealpha=1,
                    facecolor='white', fontsize=14, handlelength=1.8,
                    handletextpad=0.25, labelspacing=0.5, borderpad=0.38,
                    borderaxespad=0)
    lg.get_frame().set_linewidth(1)


fig = plt.figure(figsize=(11.96, 14.18), dpi=100)
rect1 = [88 / 1196, 1 - 632 / 1418, 910 / 1196, 617 / 1418]
rect2 = [77 / 1196, 1 - 1339 / 1418, 924 / 1196, 617 / 1418]
add_background(rect1)
add_background(rect2)
ax1 = fig.add_axes(rect1)
ax2 = fig.add_axes(rect2)

mk = dict(lw=1.0, marker='D', ms=6.5, mew=0.5)

# --- top: relative humidity
rh_series = [(RH_A1_DAYS, RH_A1), (RH_B1_DAYS, RH_B1), (RH_C1_DAYS, RH_C1),
             (RH_D1_DAYS, RH_D1), (RH_E1_DAYS, RH_E1)]
h1 = []
for (d, v), c, name in zip(rh_series, COLORS, RH_NAMES):
    x, y = chain((d, v))
    ln, = ax1.plot(x, y, color=c, mec=c, label=name, **mk)
    h1.append(ln)
style_axes(ax1, RH_TICKS)
ax1.set_ylabel('RH (%)', fontweight='bold', fontsize=14, labelpad=8)

# --- bottom: temperature
t_series = [
    chain((T_DAYS_1A, T_A1_1A), (T_DAYS_1B, T_A1_1B), (T_DAYS_2, T_A1_2),
          (T_DAYS_3, T_A1_3), (T_DAYS_4, T_A1_4), (T_DAYS_5, T_A1_5),
          (T_DAYS_6 + T_A1_DAYS_7, T_A1_6 + T_A1_7), (T_A1_DAYS_8, T_A1_8)),
    chain((T_DAYS_1A, T_B1_1A), (T_DAYS_1B, T_B1_1B), (T_DAYS_2, T_B1_2),
          (T_DAYS_3, T_B1_3), (T_DAYS_4, T_B1_4), (T_DAYS_5, T_B1_5),
          (T_DAYS_6, T_B1_6)),
    chain((T_DAYS_1A, T_C1_1A), (T_DAYS_1B, T_C1_1B), (T_DAYS_2, T_C1_2),
          (T_DAYS_3, T_C1_3), (T_DAYS_4, T_C1_4), (T_DAYS_5, T_C1_5),
          (T_DAYS_6 + T_C1_DAYS_7, T_C1_6 + T_C1_7), (T_C1_DAYS_8, T_C1_8),
          (T_C1_DAYS_9, T_C1_9)),
    chain((T_DAYS_1A, T_D1_1A), (T_DAYS_1B, T_D1_1B), (T_DAYS_2, T_D1_2),
          (T_DAYS_3, T_D1_3), (T_DAYS_4, T_D1_4),
          (T_DAYS_5[:len(T_D1_5)], T_D1_5)),
    chain((T_DAYS_1A, T_E1_1A), (T_DAYS_1B, T_E1_1B), (T_DAYS_2, T_E1_2),
          (T_DAYS_3, T_E1_3), (T_DAYS_4, T_E1_4)),
]
h2 = []
for (x, y), c, name in zip(t_series, COLORS, T_NAMES):
    ln, = ax2.plot(x, y, color=c, mec=c, label=name, **mk)
    h2.append(ln)
ex, ey = chain((EXT_DAYS, EXT_TEMP))
ln, = ax2.plot(ex, ey, color=EXT_COLOR, lw=1.1, label=T_NAMES[-1])
h2.append(ln)
style_axes(ax2, T_TICKS)
ax2.set_ylabel('T (ºC)', fontweight='bold', fontsize=14, labelpad=8)
ax2.set_xlabel('Time (days from 01/03/2010)', fontweight='bold', fontsize=14.5, labelpad=12)

leg(h1, RH_NAMES, 1036 / 1196, 1 - 253 / 1418)
leg(h2, T_NAMES, 1040 / 1196, 1 - 945 / 1418)

fig.savefig('out.png', dpi=100, facecolor='white')
